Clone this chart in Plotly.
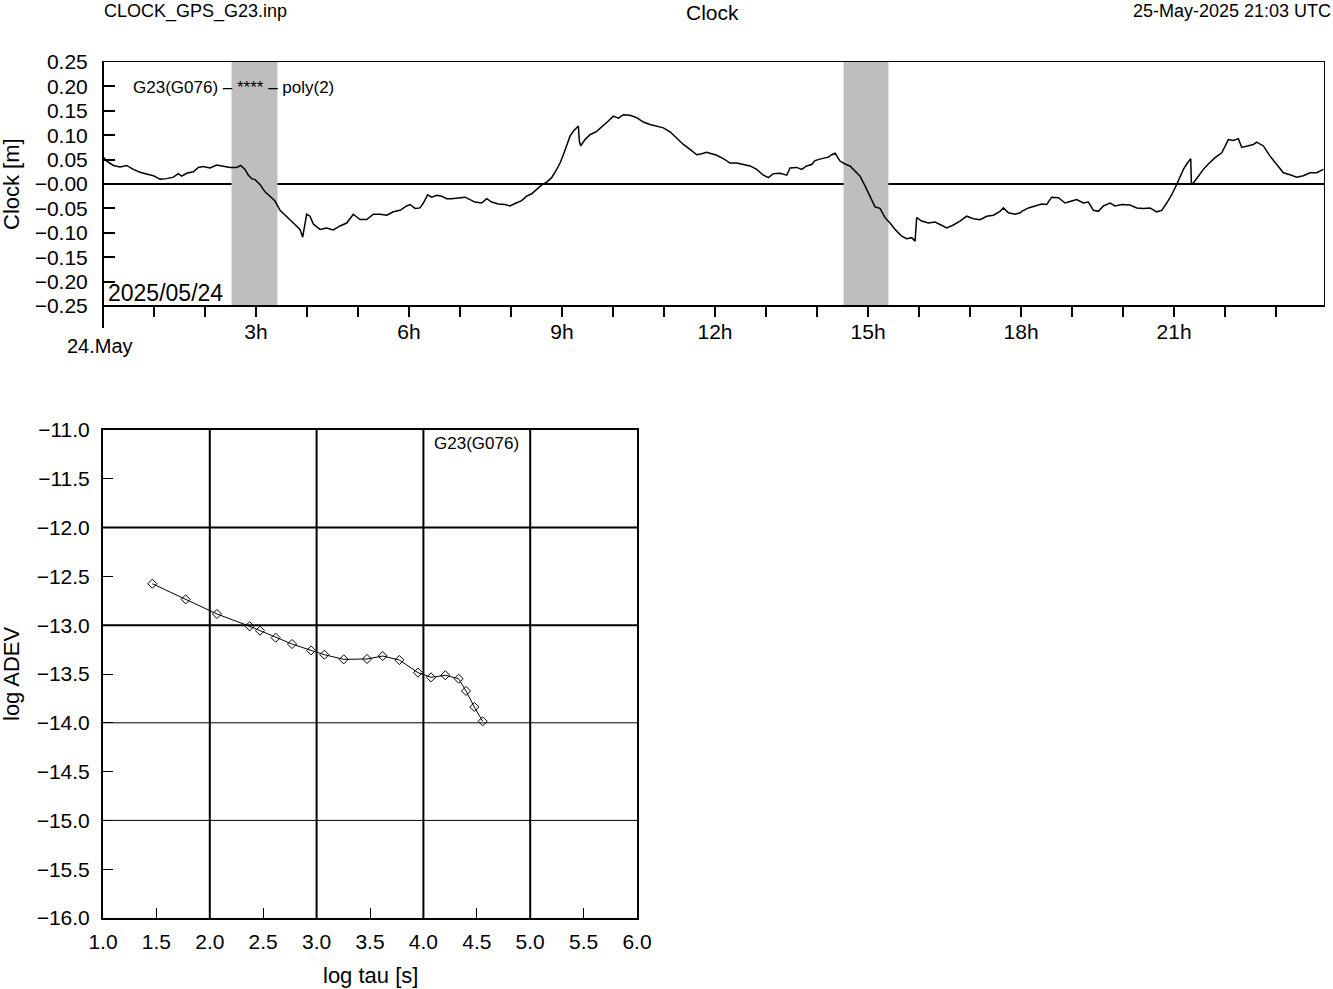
import plotly.graph_objects as go

W, H = 1333, 989
FONT = "Liberation Sans, Arial, Helvetica, sans-serif"

# ---------------- data ----------------
hours = [0.0, 0.072, 0.203, 0.333, 0.464, 0.595, 0.725, 0.856, 0.987, 1.118,
         1.248, 1.379, 1.477, 1.542, 1.641, 1.771, 1.869, 1.967, 2.098, 2.229,
         2.359, 2.490, 2.621, 2.699, 2.784, 2.850, 2.915, 2.980, 3.078, 3.176,
         3.275, 3.373, 3.471, 3.601, 3.732, 3.863, 3.915, 3.993, 4.059, 4.124,
         4.255, 4.386, 4.516, 4.647, 4.778, 4.908, 5.039, 5.170, 5.301, 5.431,
         5.562, 5.693, 5.824, 5.954,
         6.020, 6.118, 6.216, 6.281, 6.366, 6.444, 6.543, 6.641, 6.739, 6.837,
         6.967, 7.098, 7.196, 7.294, 7.425, 7.523, 7.621, 7.752, 7.882, 7.980,
         8.078, 8.209, 8.307, 8.405, 8.503, 8.601, 8.699, 8.797, 8.895, 8.961,
         9.026, 9.092, 9.157, 9.222, 9.288, 9.320, 9.340, 9.366, 9.451, 9.549,
         9.680, 9.810, 9.908, 10.007, 10.105, 10.203, 10.333, 10.464, 10.595, 10.725,
         10.856, 10.987, 11.118, 11.248, 11.379, 11.510, 11.641, 11.739, 11.837, 11.935,
         12.033, 12.163, 12.294, 12.425, 12.556, 12.686, 12.817, 12.948, 13.046, 13.144,
         13.275, 13.405, 13.471, 13.601, 13.699, 13.797, 13.895, 13.961, 14.092, 14.222,
         14.288, 14.353, 14.451, 14.549, 14.647, 14.745, 14.843, 14.941, 15.039, 15.137,
         15.235, 15.333, 15.431, 15.529, 15.660, 15.758, 15.856, 15.922, 15.954, 16.052,
         16.183, 16.314, 16.412, 16.543, 16.673, 16.804, 16.935, 17.065, 17.196, 17.327,
         17.458, 17.588, 17.654, 17.752, 17.882, 17.980,
         18.013, 18.144, 18.275, 18.405, 18.503, 18.601, 18.732, 18.863, 18.993, 19.092,
         19.222, 19.320, 19.418, 19.516, 19.614, 19.745, 19.843, 19.974, 20.137, 20.268,
         20.399, 20.529, 20.660, 20.758, 20.856, 20.954, 21.052, 21.118, 21.183, 21.248,
         21.327, 21.340, 21.379, 21.477, 21.575, 21.673, 21.804, 21.935, 22.065, 22.163,
         22.261, 22.327, 22.458, 22.556, 22.621, 22.752, 22.882, 23.013, 23.144, 23.275,
         23.405, 23.536, 23.667, 23.797, 23.928]

clock_m = [0.0557, 0.047, 0.038, 0.035, 0.038, 0.030, 0.024, 0.021, 0.017, 0.010,
           0.011, 0.014, 0.021, 0.016, 0.022, 0.025, 0.034, 0.036, 0.033, 0.039,
           0.036, 0.034, 0.034, 0.038, 0.030, 0.018, 0.011, 0.009, -0.001, -0.016,
           -0.025, -0.035, -0.054, -0.066, -0.080, -0.093, -0.109, -0.062, -0.066, -0.082,
           -0.093, -0.090, -0.094, -0.086, -0.080, -0.062, -0.073, -0.073, -0.062, -0.062,
           -0.064, -0.057, -0.054, -0.045,
           -0.042, -0.050, -0.049, -0.039, -0.022, -0.027, -0.023, -0.025, -0.030, -0.030,
           -0.028, -0.027, -0.032, -0.037, -0.039, -0.030, -0.037, -0.041, -0.042, -0.045,
           -0.040, -0.034, -0.025, -0.020, -0.011, -0.002, 0.004, 0.013, 0.030, 0.043,
           0.060, 0.081, 0.098, 0.108, 0.115, 0.119, 0.088, 0.078, 0.091, 0.101,
           0.108, 0.119, 0.129, 0.139, 0.135, 0.142, 0.141, 0.136, 0.127, 0.122,
           0.119, 0.115, 0.107, 0.095, 0.081, 0.071, 0.060, 0.062, 0.065, 0.062,
           0.059, 0.052, 0.043, 0.043, 0.040, 0.037, 0.030, 0.018, 0.013, 0.021,
           0.022, 0.018, 0.033, 0.034, 0.030, 0.037, 0.040, 0.048, 0.052, 0.055,
           0.060, 0.063, 0.047, 0.041, 0.037, 0.026, 0.016, -0.004, -0.025, -0.047,
           -0.050, -0.069, -0.080, -0.093, -0.107, -0.112, -0.110, -0.117, -0.069, -0.076,
           -0.080, -0.078, -0.083, -0.090, -0.084, -0.076, -0.066, -0.071, -0.073, -0.066,
           -0.064, -0.056, -0.049, -0.059, -0.062, -0.059,
           -0.056, -0.049, -0.045, -0.041, -0.042, -0.027, -0.028, -0.039, -0.035, -0.032,
           -0.039, -0.037, -0.054, -0.056, -0.045, -0.039, -0.045, -0.042, -0.043, -0.049,
           -0.050, -0.049, -0.057, -0.054, -0.039, -0.022, -0.001, 0.016, 0.030, 0.041,
           0.052, 0.000, 0.002, 0.016, 0.030, 0.041, 0.054, 0.064, 0.091, 0.089,
           0.093, 0.075, 0.078, 0.081, 0.086, 0.078, 0.057, 0.040, 0.023, 0.019,
           0.014, 0.017, 0.023, 0.023, 0.030]

# data gaps (shaded windows), hours
gap_start = [2.52, 14.52]
gap_end = [3.42, 15.40]

log_tau = [1.462, 1.774, 2.067, 2.373, 2.470, 2.617, 2.770, 2.948, 3.073, 3.254,
           3.472, 3.619, 3.775, 3.949, 4.071, 4.205, 4.330, 4.399, 4.477, 4.555]
log_adev = [-12.575, -12.735, -12.885, -13.011, -13.056, -13.128, -13.193, -13.258, -13.302, -13.350,
            -13.346, -13.316, -13.357, -13.486, -13.534, -13.513, -13.548, -13.674, -13.838, -13.985]

clock_ticks = [0.25, 0.20, 0.15, 0.10, 0.05, 0.0, -0.05, -0.10, -0.15, -0.20, -0.25]
clock_ticktext = ["0.25", "0.20", "0.15", "0.10", "0.05", "\u22120.00", "\u22120.05",
                  "\u22120.10", "\u22120.15", "\u22120.20", "\u22120.25"]
hour_ticks = list(range(24))
hour_ticktext = [f"{h}h" if (h % 3 == 0 and h > 0) else "" for h in hour_ticks]

tau_ticks = [1.0 + 0.5 * i for i in range(11)]
adev_ticks = [-11.0 - 0.5 * i for i in range(11)]
tau_grid = [2, 3, 4, 5]
adev_grid_thick = [-12, -13]
adev_grid_thin = [-14, -15]


def px(x):
    return x / W


def py(y):
    return 1 - y / H


fig = go.Figure()

fig.add_trace(go.Scatter(x=hours, y=clock_m, mode="lines",
                         line=dict(color="black", width=1.5),
                         xaxis="x", yaxis="y", showlegend=False))

fig.add_trace(go.Scatter(x=log_tau, y=log_adev, mode="lines+markers",
                         line=dict(color="black", width=1),
                         marker=dict(symbol="diamond-open", size=7,
                                     color="black", line=dict(width=1, color="black")),
                         xaxis="x2", yaxis="y2", showlegend=False))

shapes = []
# zero line (below gaps)
shapes.append(dict(type="line", xref="x domain", yref="y", x0=0, x1=1, y0=0, y1=0,
                   line=dict(color="black", width=2), layer="below"))
for a, b in zip(gap_start, gap_end):
    shapes.append(dict(type="rect", xref="x", yref="y domain", x0=a, x1=b, y0=0, y1=1,
                       fillcolor="#bebebe", line=dict(width=0), layer="below"))
# thicker left & bottom borders of top panel
shapes.append(dict(type="line", xref="x domain", yref="y domain", x0=0, x1=0, y0=-0.09, y1=1,
                   line=dict(color="black", width=2)))
shapes.append(dict(type="line", xref="x domain", yref="y domain", x0=0, x1=1, y0=0, y1=0,
                   line=dict(color="black", width=2)))
# ADEV grid
for v in tau_grid:
    shapes.append(dict(type="line", xref="x2", yref="y2 domain", x0=v, x1=v, y0=0, y1=1,
                       line=dict(color="black", width=2), layer="below"))
for v in adev_grid_thick:
    shapes.append(dict(type="line", xref="x2 domain", yref="y2", x0=0, x1=1, y0=v, y1=v,
                       line=dict(color="black", width=2), layer="below"))
for v in adev_grid_thin:
    shapes.append(dict(type="line", xref="x2 domain", yref="y2", x0=0, x1=1, y0=v, y1=v,
                       line=dict(color="black", width=1), layer="below"))

tickfont = dict(family=FONT, size=21, color="black")


def ann(text, x, y, size, xanchor="left", textangle=0):
    return dict(text=text, x=px(x), y=py(y), xref="paper", yref="paper",
                xanchor=xanchor, yanchor="middle", showarrow=False, textangle=textangle,
                font=dict(family=FONT, size=size, color="black"))


annotations = [
    ann("CLOCK_GPS_G23.inp", 102, 11, 18, "left"),
    ann("Clock", 713, 12, 21, "center"),
    ann("25-May-2025 21:03 UTC", 1333, 11, 18, "right"),
    ann("Clock [m]", 11, 184, 22, "center", -90),
    ann("24.May", 100, 346, 20, "center"),
    ann("2025/05/24", 106, 293, 23, "left"),
    ann("G23(G076) \u2013 **** \u2013 poly(2)", 131, 87, 17, "left"),
    ann("G23(G076)", 432, 443, 17, "left"),
    ann("log ADEV", 11, 674, 22, "center", -90),
    ann("log tau [s]", 370, 975, 22, "center"),
]

fig.update_layout(
    width=W, height=H,
    margin=dict(l=0, r=0, t=0, b=0, autoexpand=False),
    paper_bgcolor="white", plot_bgcolor="white",
    showlegend=False,
    xaxis=dict(domain=[px(103), px(1324)], range=[0, 23.94], anchor="y",
               tickmode="array", tickvals=hour_ticks, ticktext=hour_ticktext,
               ticks="outside", ticklen=10, tickwidth=2, tickcolor="black",
               showgrid=False, zeroline=False, showline=True, mirror=True,
               linecolor="black", linewidth=1, tickfont=tickfont, ticklabelstandoff=-3),
    yaxis=dict(domain=[py(306), py(62)], range=[-0.25, 0.25], anchor="x",
               tickmode="array", tickvals=clock_ticks, ticktext=clock_ticktext,
               ticks="inside", ticklen=12, tickwidth=2, tickcolor="black",
               showgrid=False, zeroline=False, showline=True, mirror=True,
               linecolor="black", linewidth=1, tickfont=tickfont, ticklabelstandoff=10),
    xaxis2=dict(domain=[px(103), px(637)], range=[1, 6], anchor="y2",
                tickmode="array", tickvals=tau_ticks, tickformat=".1f",
                ticks="inside", ticklen=10, tickwidth=1, tickcolor="black",
                showgrid=False, zeroline=False, showline=True, mirror=True,
                linecolor="black", linewidth=2, tickfont=tickfont, ticklabelstandoff=4),
    yaxis2=dict(domain=[py(918), py(430)], range=[-16, -11], anchor="x2",
                tickmode="array", tickvals=adev_ticks, tickformat=".1f",
                ticks="inside", ticklen=10, tickwidth=1, tickcolor="black",
                showgrid=False, zeroline=False, showline=True, mirror=True,
                linecolor="black", linewidth=2, tickfont=tickfont, ticklabelstandoff=7),
    shapes=shapes,
    annotations=annotations,
)

fig.write_html(
    "out.html",
    config={"displayModeBar": False},
    post_script="document.body.style.margin='0px';document.body.style.overflow='hidden';",
)
